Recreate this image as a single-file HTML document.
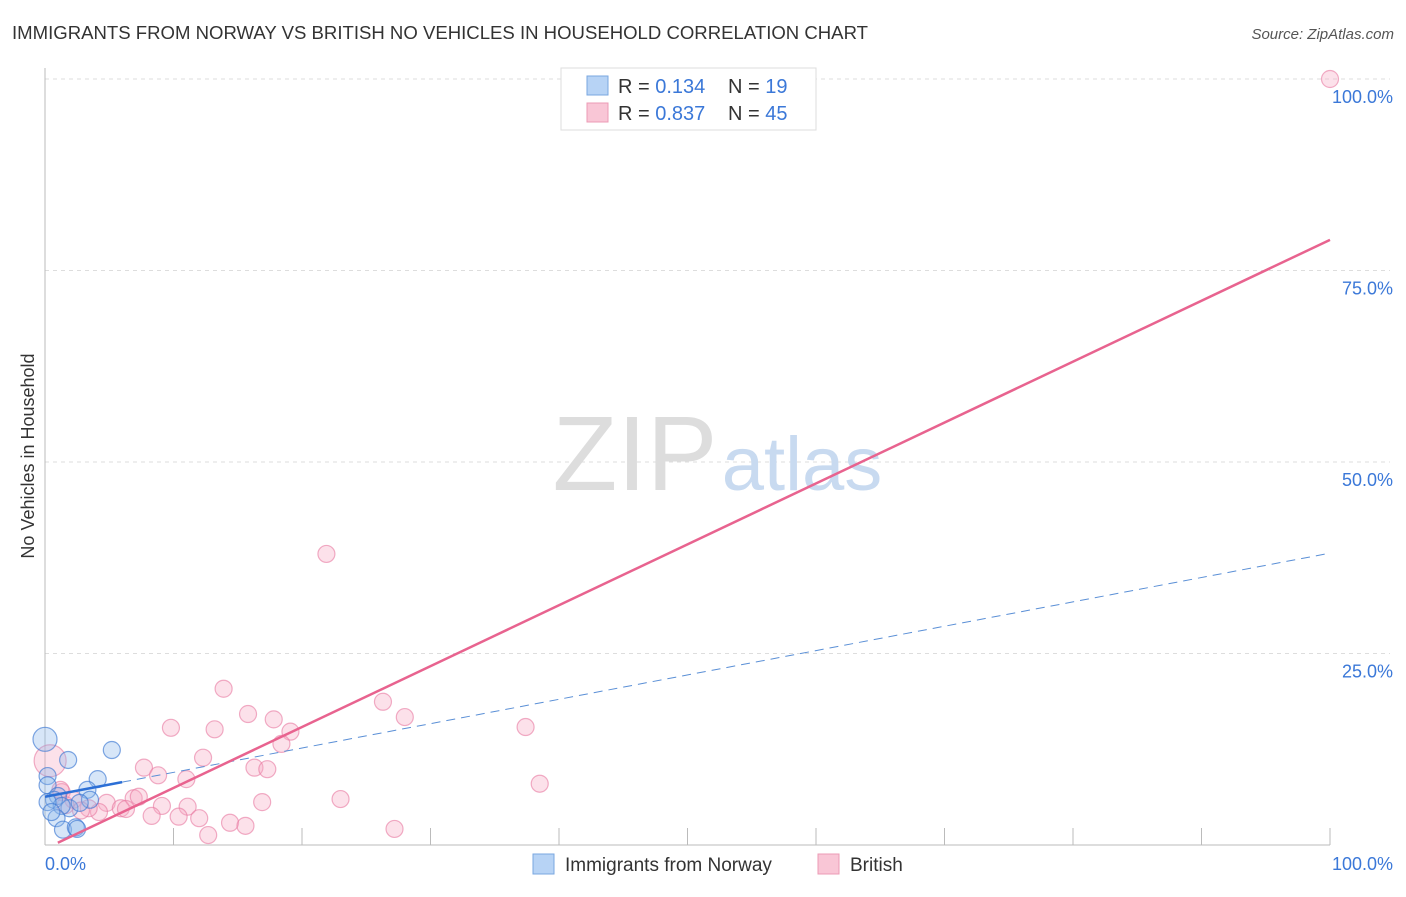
<!DOCTYPE html>
<html><head><meta charset="utf-8"><style>
body{margin:0;background:#fff;font-family:"Liberation Sans",sans-serif;}
svg text{font-family:"Liberation Sans",sans-serif;}
</style></head><body>
<svg width="1406" height="892" viewBox="0 0 1406 892" xmlns="http://www.w3.org/2000/svg">
<text x="12" y="39" font-size="18" fill="#333" textLength="856" lengthAdjust="spacingAndGlyphs">IMMIGRANTS FROM NORWAY VS BRITISH NO VEHICLES IN HOUSEHOLD CORRELATION CHART</text>
<text x="1394" y="39" font-size="15" fill="#555" text-anchor="end" font-style="italic">Source: ZipAtlas.com</text>
<g id="grid"></g>
<g>
<text x="635" y="490" font-size="106" fill="#ddd" font-family="Liberation Serif,serif" text-anchor="middle">ZIP</text>
<text x="802" y="490" font-size="76" fill="#c8daf0" text-anchor="middle">atlas</text>
</g>
<text transform="translate(34,456) rotate(-90)" font-size="18" fill="#333" text-anchor="middle">No Vehicles in Household</text>
<g id="marks"></g>
<g>
<rect x="561" y="68" width="255" height="62" fill="#fff" stroke="#ddd"/>
<rect x="587" y="76" width="21" height="19" fill="#b7d3f5" stroke="#7aa7e0"/>
<rect x="587" y="103" width="21" height="19" fill="#f9c6d6" stroke="#ec9bb5"/>
<text x="618" y="93" font-size="20" fill="#333">R = <tspan fill="#3b78d8">0.134</tspan></text>
<text x="728" y="93" font-size="20" fill="#333">N = <tspan fill="#3b78d8">19</tspan></text>
<text x="618" y="120" font-size="20" fill="#333">R = <tspan fill="#3b78d8">0.837</tspan></text>
<text x="728" y="120" font-size="20" fill="#333">N = <tspan fill="#3b78d8">45</tspan></text>
</g>
<g>
<rect x="533" y="854" width="21" height="20" fill="#b7d3f5" stroke="#7aa7e0"/>
<text x="565" y="871" font-size="19" fill="#333">Immigrants from Norway</text>
<rect x="818" y="854" width="21" height="20" fill="#f9c6d6" stroke="#ec9bb5"/>
<text x="850" y="871" font-size="19" fill="#333">British</text>
</g>
</svg>
<script>
const yTicks=[25,50,75,100];
const yTickLabels=["25.0%","50.0%","75.0%","100.0%"];
const xTicks=[10,20,30,40,50,60,70,80,90,100];
const britishX=[100,21.9,13.9,26.3,15.8,17.8,28.0,37.4,9.8,13.2,19.1,18.4,12.3,7.7,16.3,17.3,8.8,11.0,38.5,16.9,23.0,6.9,7.3,4.8,9.1,11.1,5.9,6.3,8.3,10.4,12.0,14.4,15.6,12.7,27.2,4.2,3.4,1.3,1.2,2.2,0.4,1.6,2.8];
const britishY=[100,38.0,20.4,18.7,17.1,16.4,16.7,15.4,15.3,15.1,14.8,13.2,11.4,10.1,10.1,9.9,9.1,8.6,8.0,5.6,6.0,6.1,6.3,5.5,5.1,5.0,4.8,4.7,3.8,3.7,3.5,2.9,2.5,1.3,2.1,4.3,4.8,6.9,7.2,5.9,11,5.2,4.5];
const norwayX=[0,5.2,1.8,4.1,0.2,0.2,3.3,1.0,0.7,1.9,1.3,3.5,0.9,1.4,2.4,2.5,0.2,2.7,0.5];
const norwayY=[13.8,12.4,11.1,8.6,9.0,7.8,7.2,6.4,5.9,4.8,5.1,5.9,3.5,2.0,2.3,2.1,5.6,5.5,4.3];
const norwayTrend=[6.3,0.318];
const britishTrend=[-0.5,0.795];
const NS='http://www.w3.org/2000/svg';
const X=v=>45+v*12.85, Y=v=>845-v*7.66;
function mk(tag,a,p){const e=document.createElementNS(NS,tag);for(const k in a)e.setAttribute(k,a[k]);p.appendChild(e);return e;}
const g=document.getElementById('grid'), m=document.getElementById('marks');
yTicks.forEach((t,i)=>{
 const l=mk('line',{x1:45,x2:1390,y1:Y(t),y2:Y(t),stroke:'#ddd','stroke-dasharray':'4,4'},g);
 
 
 const tx=mk('text',{x:1393,y:Y(t)+24,'font-size':18,fill:'#3b78d8','text-anchor':'end'},g);
 tx.textContent=yTickLabels[i];
 
 
});
const ax=mk('line',{x1:45,x2:45,y1:68,y2:845,stroke:'#bbb'},g);


const bx=mk('line',{x1:45,x2:1330,y1:845,y2:845,stroke:'#bbb'},g);


xTicks.forEach(t=>{const l=mk('line',{x1:X(t),x2:X(t),y1:828,y2:845,stroke:'#bbb'},g);
 
 });
[[0,'0.0%','start',45],[100,'100.0%','end',1393]].forEach(a=>{const t=mk('text',{x:a[3],y:870,'font-size':18,fill:'#3b78d8','text-anchor':a[2]},g);t.textContent=a[1];
 
 });
britishX.forEach((x,i)=>{const c=mk('circle',{cx:X(x),cy:Y(britishY[i]),r:i==40?16:8.5,fill:'rgba(246,170,196,0.35)',stroke:'rgba(232,120,160,0.6)','stroke-width':1.2},m);
 
 });
norwayX.forEach((x,i)=>{const c=mk('circle',{cx:X(x),cy:Y(norwayY[i]),r:i==0?12:8.5,fill:'rgba(140,182,236,0.35)',stroke:'rgba(60,120,210,0.65)','stroke-width':1.2},m);
 
 });
const nd=mk('line',{x1:X(6),y1:Y(norwayTrend[0]+6*norwayTrend[1]),x2:X(100),y2:Y(norwayTrend[0]+100*norwayTrend[1]),stroke:'#5a8fd6','stroke-width':1,'stroke-dasharray':'9,6'},m);


const ns=mk('line',{x1:X(0),y1:Y(norwayTrend[0]),x2:X(6),y2:Y(norwayTrend[0]+6*norwayTrend[1]),stroke:'#2c6fd6','stroke-width':2.5},m);


const bt=mk('line',{x1:X(1),y1:Y(britishTrend[0]+britishTrend[1]),x2:X(100),y2:Y(britishTrend[0]+100*britishTrend[1]),stroke:'#e8638f','stroke-width':2.5},m);


</script>
</body></html>
